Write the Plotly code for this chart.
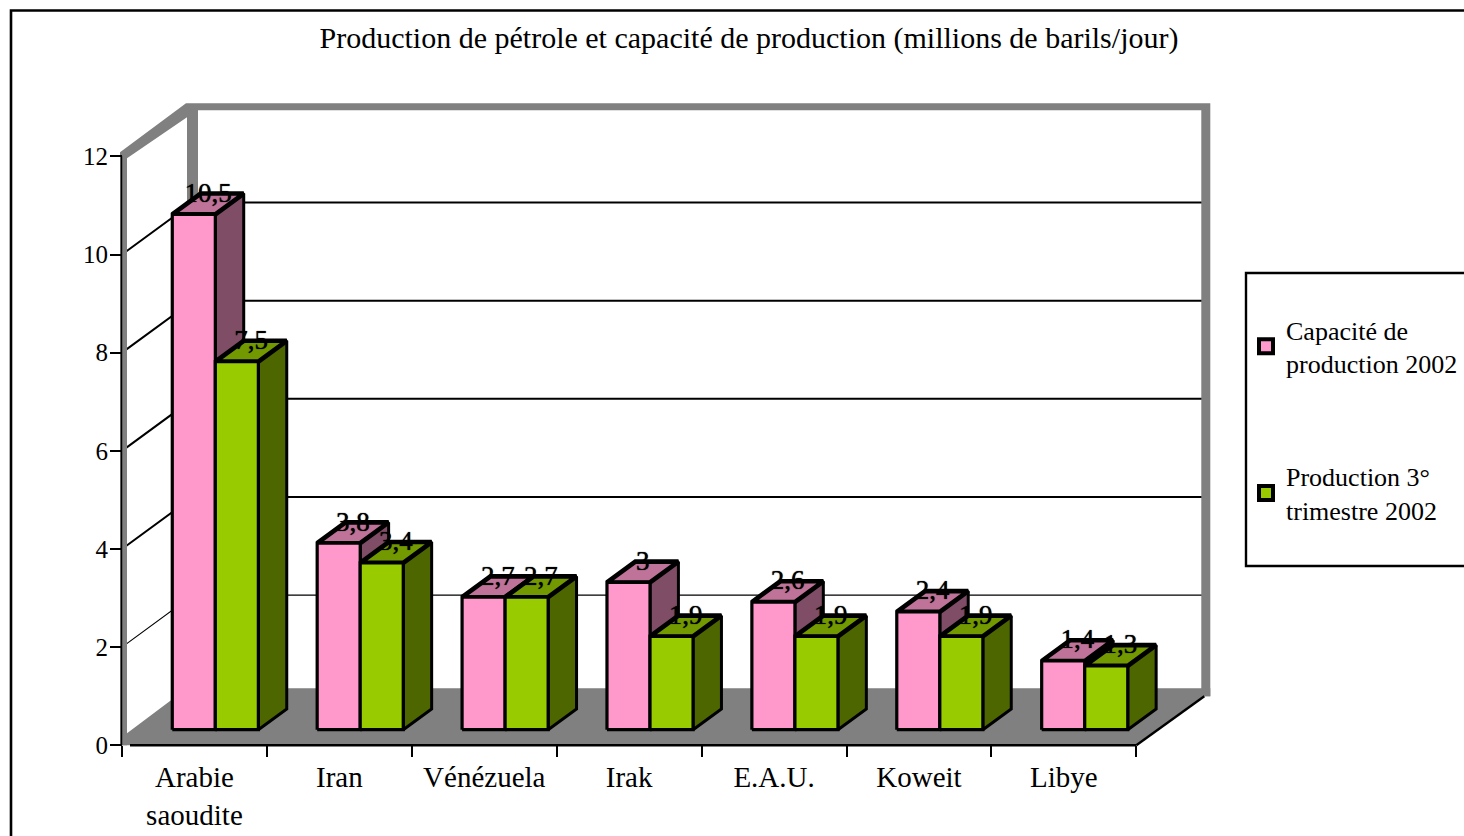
import plotly.graph_objects as go

# ---- data ----
categories = ["Arabie<br>saoudite", "Iran", "Vénézuela", "Irak", "E.A.U.", "Koweit", "Libye"]
capacite = [10.5, 3.8, 2.7, 3, 2.6, 2.4, 1.4]
production = [7.5, 3.4, 2.7, 1.9, 1.9, 1.9, 1.3]
series_names = ["Capacité de<br>production 2002", "Production 3°<br>trimestre 2002"]
y_ticks = [0, 2, 4, 6, 8, 10, 12]
grid_values = [2, 4, 6, 8, 10]
title = "Production de pétrole et capacité de production (millions de barils/jour)"

# ---- geometry / style ----
W, H = 1464, 836
X0, CW = 122.0, 144.9      # pixel of category 0, pixels per category
Y0, VU = 745.3, 49.08      # pixel of value 0, pixels per value unit
DX, DY = 71.0, 52.0        # oblique depth vector, pixels
BAR_OFF, BAR_W = 0.2, 0.297
D_FRONT, D_BACK = 0.3, 0.7
GREY = "#808080"
FONT = "Liberation Serif"
n = len(categories)


def P(cat, val, depth=0.0, ox=0.0, oy=0.0):
    """Project (category, value, depth) to axis coords, with an optional pixel nudge."""
    return (cat + (depth * DX + ox) / CW, val + (depth * DY - oy) / VU)


fig = go.Figure()


def poly(points, fill=None, line="black", width=0.0):
    xs = [p[0] for p in points]
    ys = [p[1] for p in points]
    if fill:
        xs.append(xs[0])
        ys.append(ys[0])
    fig.add_trace(go.Scatter(
        x=xs, y=ys, mode="lines",
        fill="toself" if fill else None, fillcolor=fill,
        line=dict(color=line if width else fill, width=width),
        showlegend=False, hoverinfo="skip"))


# grid lines on side and back walls
for v in grid_values:
    poly([P(0, v, 0), P(0, v, 1), P(n, v, 1)], width=1.2 if v == 2 else 2.0)

# wall frame
poly([P(0, 12, 0, -2, -4), P(0, 12, 1, -7, -1), P(n, 12, 1, 3, -1), P(n, 0, 1, 3, 3),
      P(n, 0, 1, -6, 3), P(n, 12, 1, -6, 6), P(0, 12, 1, 5, 6), P(0, 0, 1, 5, -5),
      P(0, 0, 1, -6, -5), P(0, 12, 1, -6, 13), P(0, 12, 0, 5, 2), P(0, 0, 0, 5, 0),
      P(0, 0, 0, -2, 0)], fill=GREY)
# floor
poly([P(0, 0, 0, 5, -12), P(0, 0, 1, -6, -5), P(n, 0, 1, 3, -5), P(n, 0, 1, 3, 3),
      P(n, 0, 1, -3, 3), P(n, 0, 0), P(0, 0, 0)], fill=GREY)
# axis edges
poly([P(0, 0, 0, -0.5), P(0, 12, 0, -0.5)], width=1.5)
poly([P(0, 0, 0, 8), P(n, 0, 0)], width=2.6)
poly([P(n, 0, 0), P(n, 0, 1, -3, 3)], width=2.4)

# bars
palette = [("#FF99CC", "#BF7399", "#804D66"), ("#99CC00", "#739900", "#4D6600")]
for i in range(n):
    for s, values in enumerate((capacite, production)):
        v = values[i]
        l = i + BAR_OFF + s * BAR_W
        r = l + BAR_W
        front_c, top_c, side_c = palette[s]
        poly([P(r, 0, D_FRONT), P(r, 0, D_BACK), P(r, v, D_BACK), P(r, v, D_FRONT)],
             fill=side_c, width=3.0)
        poly([P(l, v, D_FRONT), P(l, v, D_BACK), P(r, v, D_BACK), P(r, v, D_FRONT)],
             fill=top_c, width=4.6)
        poly([P(l, 0, D_FRONT), P(l, v, D_FRONT), P(r, v, D_FRONT), P(r, 0, D_FRONT)],
             fill=front_c, width=3.2)

# data labels
for s, values in enumerate((capacite, production)):
    pts = [P(i + BAR_OFF + (s + 0.5) * BAR_W, v, 0.5, 0, -9) for i, v in enumerate(values)]
    fig.add_trace(go.Scatter(
        x=[p[0] for p in pts], y=[p[1] for p in pts], mode="text",
        text=[f"{v:g}".replace(".", ",") for v in values],
        textposition="middle center",
        textfont=dict(family=FONT, size=27, color="black", shadow="0 0 1px black"),
        showlegend=False, hoverinfo="skip", cliponaxis=False))

# legend entries
for s, name in enumerate(series_names):
    fig.add_trace(go.Scatter(
        x=[None], y=[None], mode="markers", name=name, legendgroup=f"g{s}",
        marker=dict(symbol="square", size=14, color=palette[s][0],
                    line=dict(color="black", width=4))))

fig.update_layout(
    width=W, height=H, autosize=False,
    margin=dict(l=0, r=0, t=0, b=0, pad=0),
    paper_bgcolor="white", plot_bgcolor="rgba(0,0,0,0)",
    title=dict(text=title, x=749 / W, xref="paper", xanchor="center",
               y=1 - 37 / H, yref="paper", yanchor="middle",
               font=dict(family=FONT, size=30, color="black")),
    font=dict(family=FONT, color="black"),
    xaxis=dict(range=[-X0 / CW, (W - X0) / CW], domain=[0, 1], anchor="free",
               position=(H - Y0) / H, showgrid=False, zeroline=False, showline=False,
               tickmode="array", tickvals=[i + 0.5 for i in range(n)], ticktext=categories,
               ticks="", ticklabelstandoff=12, tickangle=0,
               tickfont=dict(family=FONT, size=29, color="black"),
               minor=dict(tickmode="array", tickvals=list(range(n + 1)), ticks="outside",
                          ticklen=11, tickwidth=1.6, tickcolor="black", showgrid=False)),
    yaxis=dict(range=[(Y0 - H) / VU, Y0 / VU], domain=[0, 1], anchor="free",
               position=X0 / W, showgrid=False, zeroline=False, showline=False,
               tickmode="array", tickvals=y_ticks, ticks="outside", ticklen=12,
               tickwidth=1.6, tickcolor="black", ticklabelstandoff=-3,
               tickfont=dict(family=FONT, size=25, color="black")),
    legend=dict(x=1246 / W, xanchor="left", y=1 - 306 / H, yanchor="top",
                bgcolor="rgba(0,0,0,0)", borderwidth=0, traceorder="grouped",
                tracegroupgap=76, itemsizing="trace",
                font=dict(family=FONT, size=26, color="black")),
    shapes=[
        dict(type="rect", xref="paper", yref="paper", x0=11 / W, x1=1.02,
             y0=-0.02, y1=1 - 10.5 / H, line=dict(color="black", width=2.6), layer="below"),
        dict(type="rect", xref="paper", yref="paper", x0=1246 / W, x1=1.02,
             y0=1 - 566 / H, y1=1 - 273 / H, line=dict(color="black", width=2.4),
             fillcolor="white", layer="below"),
    ],
)

fig.write_html("out.html", default_width="1464px", default_height="836px",
               config={"displayModeBar": False},
               post_script="document.body.style.margin='0';document.documentElement.style.overflow='hidden';")
